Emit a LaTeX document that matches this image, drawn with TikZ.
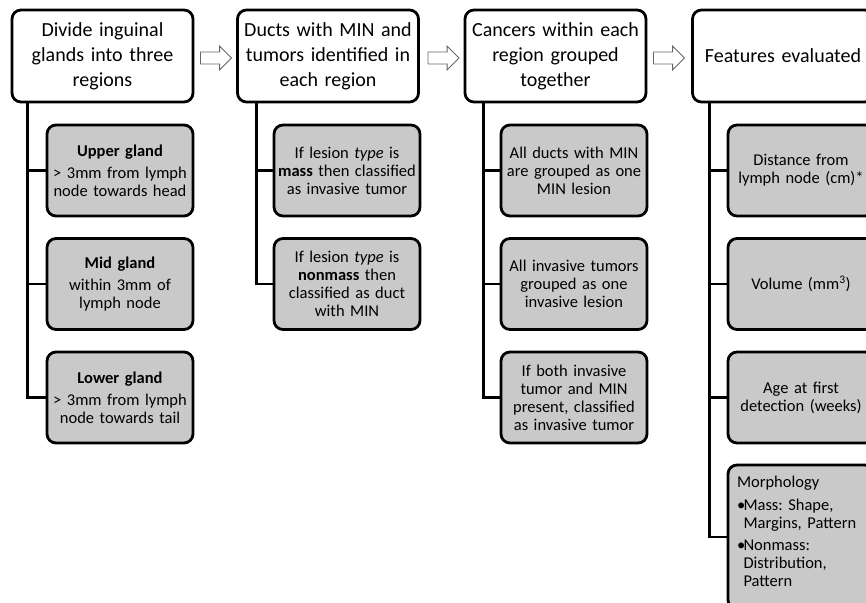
\documentclass[tikz,border=0pt]{standalone}
\usepackage{fontspec}
\setmainfont{Carlito}
\usetikzlibrary{positioning,shapes.arrows}
\frenchspacing

\newcommand{\bul}{\makebox[6.5pt][l]{\textbullet}}
\newcommand{\bulgap}{\hspace*{6.5pt}}

\tikzset{
  headbox/.style={draw, line width=2.8pt, rounded corners=9pt, fill=white,
    minimum width=181pt, minimum height=92pt, text width=172pt, inner sep=0pt,
    align=center, font=\fontsize{20}{25}\selectfont},
  itembox/.style={draw, line width=2.8pt, rounded corners=9pt, fill=black!21,
    minimum width=146pt, minimum height=91pt, text width=140pt, inner sep=0pt,
    align=center, font=\fontsize{16.5}{18}\selectfont},
  trunk/.style={line width=2.8pt},
  flowarrow/.style={single arrow, draw=black!60, fill=white, line width=0.8pt,
    minimum height=31pt, inner xsep=0pt, inner ysep=5.5pt,
    single arrow head extend=6pt}
}

\begin{document}
\begin{tikzpicture}[x=1pt,y=-1pt]
  \useasboundingbox (0,0) rectangle (866,602);
  \clip (0,0) rectangle (866,602);

  % steps along the top
  \node[headbox] (divide) at (102.5,56) {Divide inguinal\\ glands into three\\ regions};
  \node[headbox] (ducts) at (328,56) {Ducts with MIN and\\ tumors identified in\\ each region};
  \node[headbox] (cancers) at (555.5,56) {Cancers within each\\ region grouped\\ together};
  \node[headbox] (features) at (783,56) {Features evaluated};

  \node[flowarrow, left=4pt of ducts, yshift=-2pt] (arrowa) {};
  \node[flowarrow, left=4pt of cancers, yshift=-2pt] (arrowb) {};
  \node[flowarrow, left=6pt of features, yshift=-2pt] (arrowc) {};

  % regions
  \node[itembox] (upper) at (120,170.5) {\textbf{Upper gland}\\[4pt] > 3mm from lymph\\ node towards head};
  \node[itembox] (mid) at (120,284) {\textbf{Mid gland}\\[4pt] within 3mm of\\ lymph node};
  \node[itembox] (lower) at (120,397.5) {\textbf{Lower gland}\\[4pt] > 3mm from lymph\\ node towards tail};

  % lesion type
  \node[itembox] (mass) at (347,170.5) {If lesion \textit{type} is\\ \textbf{mass} then classified\\ as invasive tumor};
  \node[itembox] (nonmass) at (347,284) {If lesion \textit{type} is\\ \textbf{nonmass} then\\ classified as duct\\ with MIN};

  % grouping
  \node[itembox] (mingroup) at (574,170.5) {All ducts with MIN\\ are grouped as one\\ MIN lesion};
  \node[itembox] (invgroup) at (574,284) {All invasive tumors\\ grouped as one\\ invasive lesion};
  \node[itembox] (both) at (574,397.5) {If both invasive\\ tumor and MIN\\ present, classified\\ as invasive tumor};

  % features
  \node[itembox] (dist) at (801,170.5) {Distance from\\ lymph node (cm)*};
  \node[itembox] (vol) at (801,284) {Volume (mm\textsuperscript{3})};
  \node[itembox] (age) at (801,397.5) {Age at first\\ detection (weeks)};
  \node[itembox, minimum height=144pt, align=left, text width=128pt] (morph) at (801,537)
    {Morphology\\[5pt]
     \bul Mass: Shape,\\ \bulgap Margins, Pattern\\[4pt]
     \bul Nonmass:\\ \bulgap Distribution,\\ \bulgap Pattern\\[-6pt]\mbox{}};

  % connectors
  \draw[trunk] ([xshift=17pt]divide.south west) |- (upper.west);
  \draw[trunk] ([xshift=17pt]divide.south west) |- (mid.west);
  \draw[trunk] ([xshift=17pt]divide.south west) |- (lower.west);
  \draw[trunk] ([xshift=20pt]ducts.south west) |- (mass.west);
  \draw[trunk] ([xshift=20pt]ducts.south west) |- (nonmass.west);
  \draw[trunk] ([xshift=20pt]cancers.south west) |- (mingroup.west);
  \draw[trunk] ([xshift=20pt]cancers.south west) |- (invgroup.west);
  \draw[trunk] ([xshift=20pt]cancers.south west) |- (both.west);
  \draw[trunk] ([xshift=18pt]features.south west) |- (dist.west);
  \draw[trunk] ([xshift=18pt]features.south west) |- (vol.west);
  \draw[trunk] ([xshift=18pt]features.south west) |- (age.west);
  \draw[trunk] ([xshift=18pt]features.south west) |- (morph.west);
\end{tikzpicture}
\end{document}
